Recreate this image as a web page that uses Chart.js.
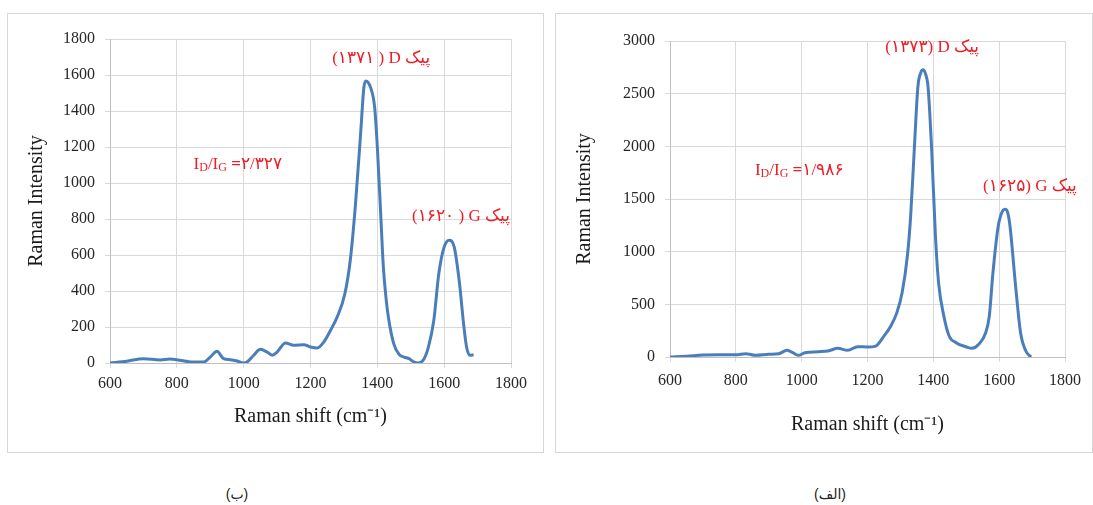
<!DOCTYPE html>
<html>
<head>
<meta charset="utf-8">
<script src="https://cdn.jsdelivr.net/npm/chart.js@4/dist/chart.umd.min.js"></script>
<style>
body { margin: 0; background: #fff; width: 1093px; height: 505px; position: relative; overflow: hidden; }
.box { position: absolute; border: 1px solid #d6d6d6; box-sizing: border-box; }
.box canvas { position: absolute; left: 0; top: 0; }
.note { position: absolute; color: #ee1c25; font-family: 'Liberation Serif', 'DejaVu Sans', serif; font-size: 17px; white-space: nowrap; line-height: 1; }
.note sub { font-size: 12px; vertical-align: baseline; position: relative; top: 2px; }
.note b { font-weight: bold; }
.cap { position: absolute; top: 486px; font-family: 'Liberation Sans', 'DejaVu Sans', sans-serif; font-size: 14px; color: #222; transform: translateX(-50%); }
</style>
</head>
<body>
<div class="box" style="left:7px;top:13px;width:537px;height:440px">
  <canvas id="chart-b" width="535" height="438"></canvas>
  <div class="note" id="b-ratio" dir="ltr">I<sub>D</sub>/I<sub>G</sub> <b>=</b>۲/۳۲۷</div>
  <div class="note" id="b-d" dir="rtl">پیک D&#x200F; ( ۱۳۷۱)</div>
  <div class="note" id="b-g" dir="rtl">پیک G&#x200F; ( ۱۶۲۰)</div>
</div>
<div class="box" style="left:555px;top:13px;width:538px;height:440px">
  <canvas id="chart-a" width="536" height="438"></canvas>
  <div class="note" id="a-ratio" dir="ltr">I<sub>D</sub>/I<sub>G</sub> <b>=</b>۱/۹۸۶</div>
  <div class="note" id="a-d" dir="rtl">پیک D&#x200F; (۱۳۷۳)</div>
  <div class="note" id="a-g" dir="rtl">پیک G&#x200F; (۱۶۲۵)</div>
</div>
<div class="cap" style="left:237px" dir="rtl">(ب)</div>
<div class="cap" style="left:830px" dir="rtl">(الف)</div>

<script>
// Spectrum (ب) - left
const shiftB = [600, 650, 700, 750, 780, 800, 850, 880, 900, 920, 940, 960, 980, 1000, 1010, 1030, 1050, 1070, 1085, 1100,
    1125, 1150, 1180, 1200, 1220, 1240, 1260, 1280, 1303, 1319, 1334, 1350, 1360, 1366, 1372, 1380, 1392, 1400, 1410, 1418,
    1425, 1433, 1449, 1465, 1480, 1495, 1510, 1522, 1540, 1553, 1569, 1584, 1600, 1615, 1630, 1646, 1657, 1667, 1677, 1688];
const intensityB = [0, 10, 24, 17, 22, 18, 5, 5, 33, 65, 24, 18, 11, 0, 5, 43, 76, 61, 43, 61,
    111, 98, 102, 89, 83, 117, 182, 256, 386, 571, 868, 1275, 1535, 1567, 1560, 1530, 1420, 1200, 830, 534,
    380, 256, 108, 48, 33, 24, 5, 0, 24, 89, 237, 497, 645, 682, 645, 441, 237, 89, 43, 46];

// Spectrum (الف) - right
const shiftA = [600, 650, 700, 750, 800, 830, 860, 900, 930, 955, 970, 990, 1010, 1050, 1080, 1110, 1140, 1170, 1200, 1225,
    1250, 1270, 1289, 1305, 1321, 1331, 1342, 1353, 1362, 1369, 1376, 1384, 1395, 1406, 1416, 1432, 1448, 1469, 1501, 1517,
    1538, 1559, 1570, 1581, 1597, 1610, 1618, 1626, 1633, 1650, 1665, 1681, 1697];
const intensityA = [0, 8, 19, 22, 22, 32, 16, 25, 30, 63, 47, 16, 41, 50, 57, 82, 63, 98, 95, 104,
    199, 290, 419, 608, 955, 1333, 1963, 2562, 2700, 2726, 2690, 2562, 1963, 1175, 703, 388, 199, 136, 95, 82,
    120, 230, 388, 797, 1239, 1385, 1402, 1370, 1239, 671, 230, 57, 0];

const shiftRange = [600, 1800];
const shiftStep = 200;
const yRangeB = [0, 1800];
const yStepB = 200;
const yRangeA = [0, 3000];
const yStepA = 500;

const xTitle = 'Raman shift (cm⁻¹)';
const yTitle = 'Raman Intensity';

// note anchors in data units
const notesB = [
    { id: 'b-ratio', x: 850, y: 1110, anchor: 'left' },
    { id: 'b-d', x: 1558, y: 1700, anchor: 'right' },
    { id: 'b-g', x: 1797, y: 822, anchor: 'right' }
];
const notesA = [
    { id: 'a-ratio', x: 858, y: 1785, anchor: 'left' },
    { id: 'a-d', x: 1539, y: 2953, anchor: 'right' },
    { id: 'a-g', x: 1836, y: 1633, anchor: 'right' }
];

const notePlugin = {
    id: 'notes',
    afterDraw(chart, args, opts) {
        const xs = chart.scales.x, ys = chart.scales.y;
        opts.items.forEach(n => {
            const el = document.getElementById(n.id);
            el.style.left = xs.getPixelForValue(n.x) + 'px';
            el.style.top = ys.getPixelForValue(n.y) + 'px';
            el.style.transform = n.anchor === 'right' ? 'translate(-100%,-50%)' : 'translate(0,-50%)';
        });
    }
};

function makeChart(canvasId, xs, ys, yRange, yStep, geo, notes) {
    const ctx = document.getElementById(canvasId).getContext('2d');
    const gridColor = '#d9d9d9';
    const tickFont = { family: 'Liberation Serif', size: 16 };
    return new Chart(ctx, {
        type: 'line',
        data: {
            datasets: [{
                data: xs.map((x, i) => ({ x: x, y: ys[i] })),
                borderColor: '#4a7ebb',
                borderWidth: 3,
                pointRadius: 0,
                cubicInterpolationMode: 'monotone',
                fill: false
            }]
        },
        options: {
            responsive: false,
            animation: false,
            layout: { padding: { top: geo.top, right: geo.right, bottom: 0, left: 0 } },
            plugins: {
                legend: { display: false },
                tooltip: { enabled: false },
                notes: { items: notes }
            },
            scales: {
                x: {
                    type: 'linear',
                    min: shiftRange[0],
                    max: shiftRange[1],
                    afterFit: s => { s.height = geo.xHeight; },
                    ticks: {
                        stepSize: shiftStep,
                        padding: geo.xPad,
                        maxRotation: 0,
                        color: '#262626',
                        font: tickFont,
                        callback: v => String(v)
                    },
                    grid: { color: gridColor, tickLength: 5 },
                    border: { color: '#bfbfbf' },
                    title: {
                        display: true,
                        text: xTitle,
                        color: '#1a1a1a',
                        font: { family: 'Liberation Serif', size: 20 },
                        padding: { top: 0, bottom: geo.xTitlePad }
                    }
                },
                y: {
                    min: yRange[0],
                    max: yRange[1],
                    afterFit: s => { s.width = geo.yWidth; },
                    ticks: {
                        stepSize: yStep,
                        padding: 10,
                        color: '#262626',
                        font: tickFont,
                        callback: v => String(v)
                    },
                    grid: { color: gridColor, tickLength: 5 },
                    border: { color: '#bfbfbf' },
                    title: {
                        display: true,
                        text: yTitle,
                        color: '#1a1a1a',
                        font: { family: 'Liberation Serif', size: 20 },
                        padding: { top: 17, bottom: 0 }
                    }
                }
            }
        },
        plugins: [notePlugin]
    });
}

makeChart('chart-b', shiftB, intensityB, yRangeB, yStepB,
    { top: 25, right: 32, yWidth: 102, xHeight: 89, xPad: 6, xTitlePad: 23 }, notesB);
makeChart('chart-a', shiftA, intensityA, yRangeA, yStepA,
    { top: 27, right: 27, yWidth: 114, xHeight: 95, xPad: 9, xTitlePad: 15 }, notesA);
</script>
</body>
</html>
